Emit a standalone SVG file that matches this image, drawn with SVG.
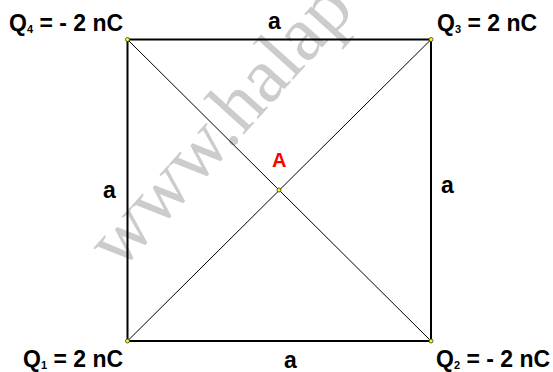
<svg xmlns="http://www.w3.org/2000/svg" width="553" height="372" viewBox="0 0 553 372">
<style>
.lbl{font-family:"Liberation Sans",Arial,sans-serif;font-weight:bold;font-size:23px;fill:#000}
.sub{font-size:11px}
.side{stroke:#000;stroke-width:2;fill:none}
.diag{stroke:#000;stroke-width:1;fill:none}
.pt{fill:#ffff00;stroke:#333;stroke-width:0.8}
.wm{font-family:"Liberation Serif","Times New Roman",serif;font-size:78px;fill:#cccccc}
</style>
<rect width="553" height="372" fill="#fff"/>
<text class="wm" transform="translate(120,272) rotate(-48)">www.halap</text>
<g id="connectors">
<line class="side" x1="127.5" y1="39.5" x2="431" y2="39.5"/>
<line class="side" x1="431" y1="39.5" x2="431" y2="341"/>
<line class="side" x1="431" y1="341" x2="127.5" y2="341"/>
<line class="side" x1="127.5" y1="341" x2="127.5" y2="39.5"/>
<line class="diag" x1="127.5" y1="39.5" x2="431" y2="341"/>
<line class="diag" x1="127.5" y1="341" x2="431" y2="39.5"/>
</g>
<g id="Q4"><circle class="pt" cx="127.5" cy="39.5" r="2"/><text class="lbl" x="9" y="31">Q<tspan class="sub" dy="2">4</tspan><tspan dy="-2"> = - 2 nC</tspan></text></g>
<g id="Q3"><circle class="pt" cx="431" cy="39.5" r="2"/><text class="lbl" x="437" y="31">Q<tspan class="sub" dy="2">3</tspan><tspan dy="-2"> = 2 nC</tspan></text></g>
<g id="Q1"><circle class="pt" cx="127.5" cy="341" r="2"/><text class="lbl" x="23" y="367">Q<tspan class="sub" dy="2">1</tspan><tspan dy="-2"> = 2 nC</tspan></text></g>
<g id="Q2"><circle class="pt" cx="431" cy="341" r="2"/><text class="lbl" x="436" y="367">Q<tspan class="sub" dy="2">2</tspan><tspan dy="-2"> = - 2 nC</tspan></text></g>
<g id="A"><circle class="pt" cx="279" cy="190" r="2"/><text class="lbl" x="272" y="167" style="fill:#ff0000;font-size:20px">A</text></g>
<g id="labels">
<text class="lbl" x="268" y="29">a</text>
<text class="lbl" x="103" y="198">a</text>
<text class="lbl" x="441" y="193">a</text>
<text class="lbl" x="284" y="368">a</text>
</g>
</svg>
